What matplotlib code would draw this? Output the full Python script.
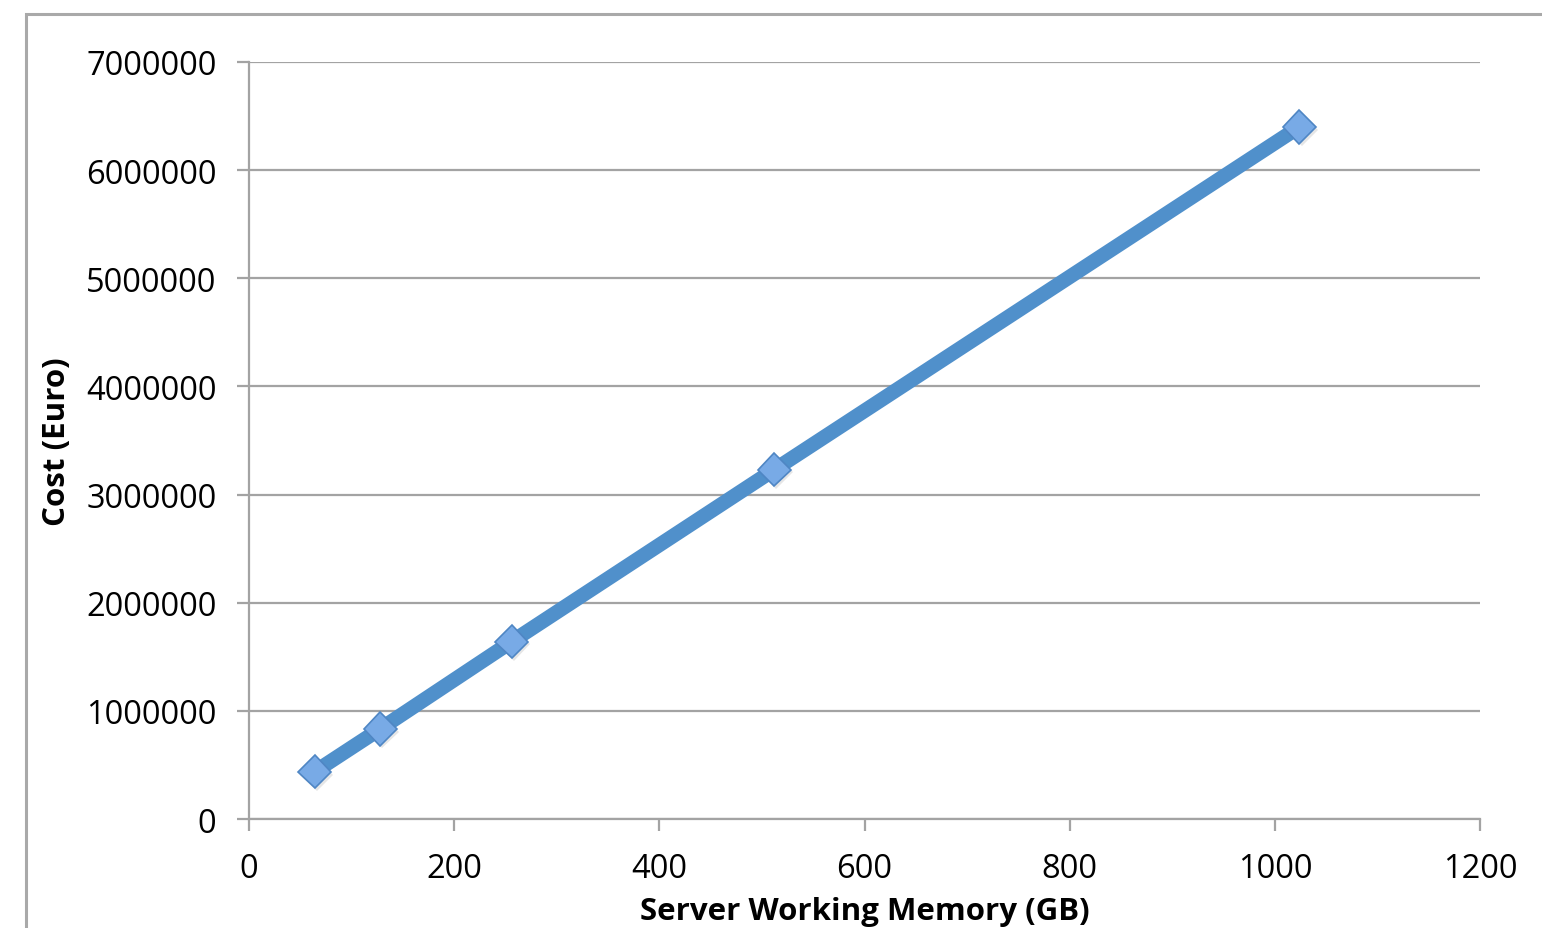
import matplotlib.pyplot as plt
from matplotlib.patches import Rectangle
import matplotlib.patheffects as pe

# memory size (GB) vs. server cost (Euro)
memory_gb = [64, 128, 256, 512, 1024]
cost_euro = [437000, 834000, 1640000, 3230000, 6400000]

x_ticks = [0, 200, 400, 600, 800, 1000, 1200]
y_ticks = [0, 1000000, 2000000, 3000000, 4000000, 5000000, 6000000, 7000000]

plt.rcParams['font.family'] = ['Open Sans', 'DejaVu Sans']

fig = plt.figure(figsize=(15.42, 9.29), dpi=100)
ax = fig.add_axes([0.1615, 0.1173, 0.7983, 0.8149])

# outer chart frame, runs off the right and bottom edges
fig.patches.append(Rectangle((0.0169, -0.05), 1.1, 1.0339, transform=fig.transFigure,
                             fill=False, edgecolor='#a9a9a9', linewidth=2.2))

line_kw = dict(color='#5090cb', linewidth=10.5, solid_capstyle='butt')
marker_kw = dict(marker='D', markersize=17, markerfacecolor='#78aae6',
                 markeredgecolor='#4f86c4', markeredgewidth=1.2)

ax.plot(memory_gb, cost_euro, **line_kw, zorder=2.9)
# markers carry a faint drop shadow
ax.plot(memory_gb, cost_euro, linestyle='none', **marker_kw, zorder=4,
        path_effects=[pe.SimplePatchShadow(offset=(1.5, -2), shadow_rgbFace='#b8b8b8', alpha=0.35),
                      pe.Normal()])

ax.set_xlim(0, 1200)
ax.set_ylim(0, 7000000)
ax.set_xticks(x_ticks)
ax.set_yticks(y_ticks)
ax.set_xticklabels([str(v) for v in x_ticks])
ax.set_yticklabels([str(v) for v in y_ticks])

ax.grid(axis='y', color='#a3a3a3', linewidth=1.6)
ax.set_axisbelow(True)
for side in ['top', 'right']:
    ax.spines[side].set_visible(False)
for side in ['left', 'bottom']:
    ax.spines[side].set_color('#a3a3a3')
    ax.spines[side].set_linewidth(1.6)

ax.tick_params(axis='both', colors='#a3a3a3', labelcolor='#000000', labelsize=23.5,
               length=8.5, width=1.6, direction='out')
ax.tick_params(axis='y', pad=15)
ax.tick_params(axis='x', pad=15)
for lbl in ax.get_yticklabels():
    lbl.set_va('center_baseline')

ax.set_xlabel('Server Working Memory (GB)', fontsize=22.5, fontweight='bold', labelpad=8)
ax.set_ylabel('Cost (Euro)', fontsize=22.5, fontweight='bold', labelpad=10)

plt.savefig('out.png', dpi=100)
